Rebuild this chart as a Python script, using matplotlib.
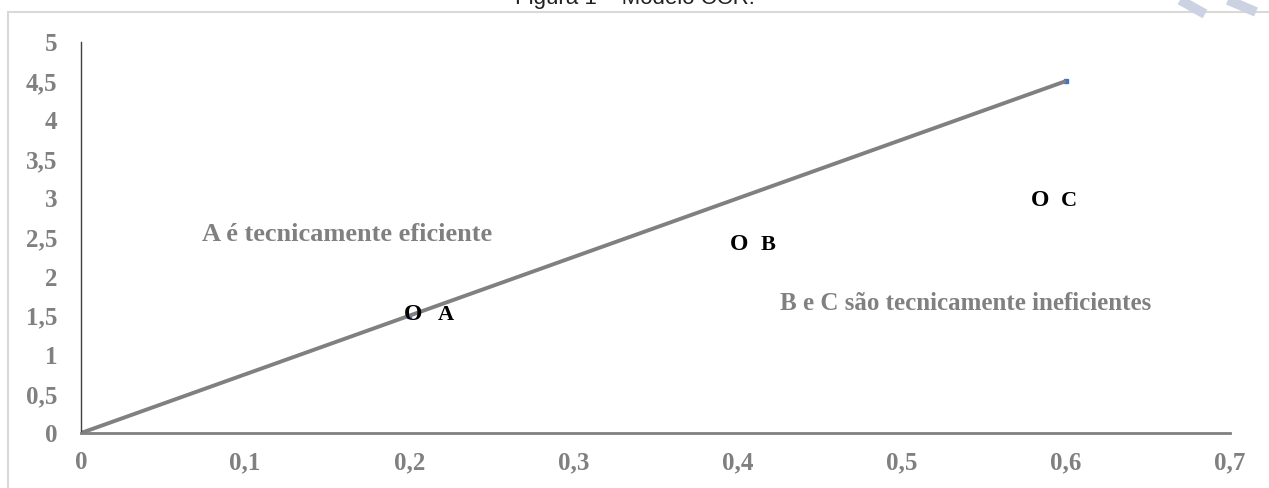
import matplotlib
matplotlib.use('Agg')
import matplotlib.pyplot as plt
from matplotlib.patches import Rectangle
from matplotlib.lines import Line2D

# frontier line (CCR)
line_x = [0, 0.2, 0.6]
line_y = [0, 1.5, 4.5]

# DMUs
dmu_names = ['A', 'B', 'C']
dmu_x = [0.202, 0.401, 0.584]
dmu_y = [1.51, 2.41, 2.97]

x_ticks = [0, 0.1, 0.2, 0.3, 0.4, 0.5, 0.6, 0.7]
y_ticks = [0, 0.5, 1, 1.5, 2, 2.5, 3, 3.5, 4, 4.5, 5]

gray = '#808080'
serif = 'Liberation Serif'
W, H = 1269, 488

fig = plt.figure(figsize=(12.69, 4.88), dpi=100)
ax = fig.add_axes([81/W, 1 - 433/H, (1230 - 81)/W, (433 - 42)/H])

# outer chart border
fig.patches.append(Rectangle((8/W, -0.1), 1.2, 1 - 12/H + 0.1, transform=fig.transFigure,
                             fill=False, edgecolor='#d9d9d9', lw=1.5))
fig.text(0.5, 1 - 4/H, 'Figura 1 – Modelo CCR.', ha='center', va='baseline',
         fontsize=16, family='Liberation Sans', color='#222222')

# page watermark strokes (top right)
for xs, ys in [([1180, 1205], [0, 14]), ([1228, 1256], [0, 12])]:
    fig.add_artist(Line2D([x / W for x in xs], [1 - y / H for y in ys], color='#cdd2e3',
                          lw=7, solid_capstyle='butt', transform=fig.transFigure))

ax.plot(line_x, line_y, ls='none', marker='s', ms=3, color='#4472C4', zorder=1)
ax.plot(line_x, line_y, color=gray, lw=2.8, solid_capstyle='butt', zorder=2)

for name, x, y in zip(dmu_names, dmu_x, dmu_y):
    ax.text(x, y, 'O', ha='center', va='center', fontsize=17, fontweight='bold',
            family=serif, color='black', zorder=3)
    ax.text(x + (0.0152 if name == 'A' else 0.0128), y, name, ha='left', va='center',
            fontsize=16, fontweight='bold', family=serif, color='black', zorder=3)

ax.text(0.0737, 2.54, 'A é tecnicamente eficiente', ha='left', va='center', fontsize=19,
        fontweight='bold', family=serif, color=gray)
ax.text(0.426, 1.66, 'B e C são tecnicamente ineficientes', ha='left', va='center', fontsize=18,
        fontweight='bold', family=serif, color=gray)

ax.set_xlim(0, 0.7)
ax.set_ylim(0, 5)
ax.set_xticks(x_ticks)
ax.set_yticks(y_ticks)
ax.set_xticklabels([('%g' % v).replace('.', ',') for v in x_ticks])
ax.set_yticklabels([('%g' % v).replace('.', ',') for v in y_ticks])
for lab in ax.get_xticklabels() + ax.get_yticklabels():
    lab.set_fontfamily(serif)
    lab.set_fontweight('bold')
    lab.set_fontsize(18)
    lab.set_color(gray)
ax.tick_params(axis='x', length=0, pad=13)
ax.tick_params(axis='y', length=0, pad=17)

ax.spines['top'].set_visible(False)
ax.spines['right'].set_visible(False)
ax.spines['left'].set_color('#404040')
ax.spines['left'].set_linewidth(1)
ax.spines['bottom'].set_color(gray)
ax.spines['bottom'].set_linewidth(2)

fig.savefig('out.png', dpi=100)
